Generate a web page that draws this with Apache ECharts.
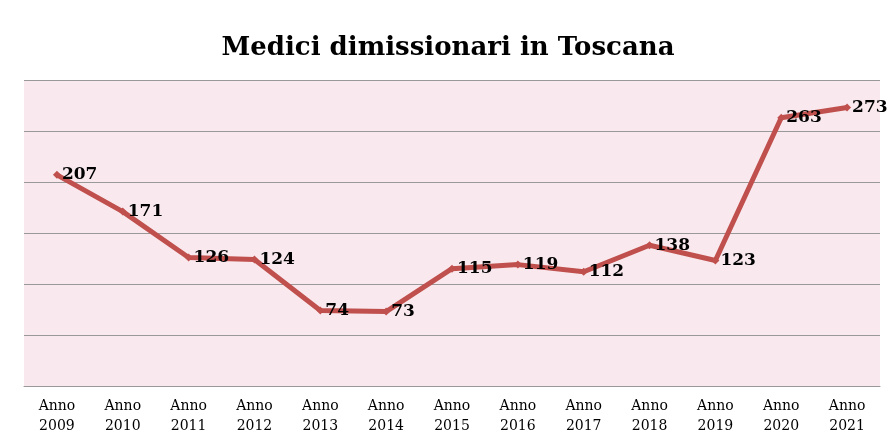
<!DOCTYPE html>
<html>
<head>
    <script src="https://cdn.jsdelivr.net/npm/echarts@6.0.0/dist/echarts.min.js"></script>
</head>
<body style="margin:0">
    <div id="echartsMain" style="width: 896px; height: 447px;"></div>
</body>
</html>

<script type="text/javascript">
    let years = ['Anno\n2009', 'Anno\n2010', 'Anno\n2011', 'Anno\n2012', 'Anno\n2013', 'Anno\n2014', 'Anno\n2015',
        'Anno\n2016', 'Anno\n2017', 'Anno\n2018', 'Anno\n2019', 'Anno\n2020', 'Anno\n2021']
    let dimissioni = [207, 171, 126, 124, 74, 73, 115, 119, 112, 138, 123, 263, 273]

    let myChart = echarts.init(document.getElementById('echartsMain'));
    let font = 'DejaVu Serif'
    var option = {
        title: {
            text: 'Medici dimissionari in Toscana',
            left: 'center',
            top: 16,
            textStyle: { fontFamily: font, fontSize: 26, fontWeight: 'bold', color: '#000' }
        },
        grid: { left: 24, right: 16, top: 80, bottom: 61, backgroundColor: '#f9e9ee', show: true, borderWidth: 0 },
        xAxis: {
            type: 'category',
            data: years,
            axisTick: { show: false },
            axisLine: { lineStyle: { color: '#999' } },
            axisLabel: { fontFamily: font, fontSize: 14, color: '#000', lineHeight: 20, margin: 10, interval: 0 }
        },
        yAxis: {
            type: 'value',
            min: 0,
            max: 300,
            interval: 50,
            axisLabel: { show: false },
            splitLine: { lineStyle: { color: '#999' } }
        },
        series: [{
            type: 'line',
            data: dimissioni,
            symbol: 'diamond',
            symbolSize: 8,
            lineStyle: { color: '#c0504d', width: 5 },
            itemStyle: { color: '#c0504d' },
            label: {
                show: true,
                position: 'right',
                distance: 1,
                fontFamily: font,
                fontSize: 17,
                fontWeight: 'bold',
                color: '#000'
            }
        }]
    };
    myChart.setOption(option);
</script>
